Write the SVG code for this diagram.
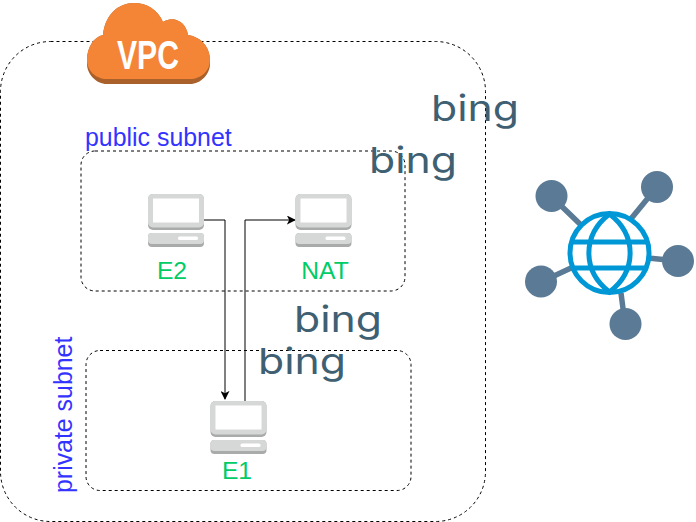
<svg xmlns="http://www.w3.org/2000/svg" width="696" height="522" viewBox="0 0 696 522">
<style>
.box{fill:none;stroke:#000;stroke-width:1;stroke-dasharray:3 3}
.conn{fill:none;stroke:#000;stroke-width:1}
.lbl{font-family:"Liberation Sans",Arial,sans-serif;font-size:24.700px;fill:#00cc66;text-anchor:middle}
.sub{font-family:"Liberation Sans",Arial,sans-serif;font-size:24.900px;fill:#3333ff}
.bing{font-family:"Inter","Liberation Sans",sans-serif;font-size:36px;font-weight:400;fill:#3f5f72}
.sat{fill:#5b7a95}
.spoke{stroke:#5b7a95;stroke-width:5.500;fill:none}
.globe{fill:none;stroke:#0097d6;stroke-width:5}
</style>
<defs>
<marker id="arrow" viewBox="0 0 10 10" refX="9" refY="5" markerWidth="9" markerHeight="9" markerUnits="userSpaceOnUse" orient="auto"><path d="M0 0L10 5L0 10L2.500 5Z" fill="#000"/></marker>
<g id="pc">
<rect x="0" y="0" width="56" height="36" rx="5" fill="#a9abaa"/>
<rect x="0" y="0" width="56" height="33.500" rx="5" fill="#d6d8d7"/>
<rect x="5" y="4.500" width="46" height="24" fill="#fff"/>
<rect x="0" y="39" width="56" height="14" rx="4" fill="#a9abaa"/>
<rect x="0" y="39" width="56" height="11" rx="4" fill="#d6d8d7"/>
<rect x="30" y="42.500" width="20" height="3.500" rx="1.500" fill="#fff"/>
</g>
</defs>
<g id="vpc-boundary"><rect class="box" x="0.500" y="41.500" width="485" height="480" rx="50"/></g>
<g id="public-subnet">
<rect class="box" x="81" y="151" width="324" height="140" rx="14"/>
<text class="sub" x="85" y="146">public subnet</text>
</g>
<g id="private-subnet">
<rect class="box" x="86" y="350.500" width="325" height="140" rx="14"/>
<text class="sub" transform="translate(72 493) rotate(-90)">private subnet</text>
</g>
<g id="vpc-cloud">
<path d="M87 64V60C87 47 94 37 103 35C105 15 118 3 134 3C147 3 158 10 163 22C174 15 186 22 188 35C201 37 210 47 210 60V64C210 74 201 84 190 84H107C96 84 87 74 87 64Z" fill="#a9602a"/>
<path d="M87 60C87 47 94 37 103 35C105 15 118 3 134 3C147 3 158 10 163 22C174 15 186 22 188 35C201 37 210 47 210 60C210 71 201 79 190 79H107C96 79 87 71 87 60Z" fill="#f58536"/>
<text x="117" y="69" font-family="'Liberation Sans',Arial,sans-serif" font-size="40" font-weight="bold" fill="#fff" textLength="62" lengthAdjust="spacingAndGlyphs">VPC</text>
</g>
<g id="connectors">
<path class="conn" d="M204 220H225V399" marker-end="url(#arrow)"/>
<path class="conn" d="M245 401V220H295" marker-end="url(#arrow)"/>
</g>
<g id="E2"><use href="#pc" x="148" y="194"/><text class="lbl" x="172" y="279">E2</text></g>
<g id="NAT"><use href="#pc" x="295.500" y="194"/><text class="lbl" x="325" y="279">NAT</text></g>
<g id="E1"><use href="#pc" x="210.500" y="401"/><text class="lbl" x="237" y="479">E1</text></g>
<g id="bing-1"><text class="bing" x="431" y="121" textLength="88" lengthAdjust="spacingAndGlyphs">bing</text></g>
<g id="bing-2"><text class="bing" x="369" y="173" textLength="88" lengthAdjust="spacingAndGlyphs">bing</text></g>
<g id="bing-3"><text class="bing" x="294" y="332" textLength="88" lengthAdjust="spacingAndGlyphs">bing</text></g>
<g id="bing-4"><text class="bing" x="258" y="374" textLength="88" lengthAdjust="spacingAndGlyphs">bing</text></g>
<g id="internet">
<path class="spoke" d="M551 196L581 225M657 187L630 220M678 261L648 258M625 324L621 293M541 282L571 268"/>
<circle class="sat" cx="551.500" cy="196" r="16"/>
<circle class="sat" cx="657" cy="187" r="16"/>
<circle class="sat" cx="678" cy="261" r="16"/>
<circle class="sat" cx="625.500" cy="324" r="16"/>
<circle class="sat" cx="541" cy="281.500" r="16"/>
<circle cx="609.500" cy="253" r="40" fill="#fff"/>
<circle class="globe" cx="609.500" cy="253" r="39.500"/>
<path class="globe" d="M609.500 214C582 235 582 271 609.500 292C637 271 637 235 609.500 214ZM573 242H646M573 268H646"/>
</g>
</svg>
